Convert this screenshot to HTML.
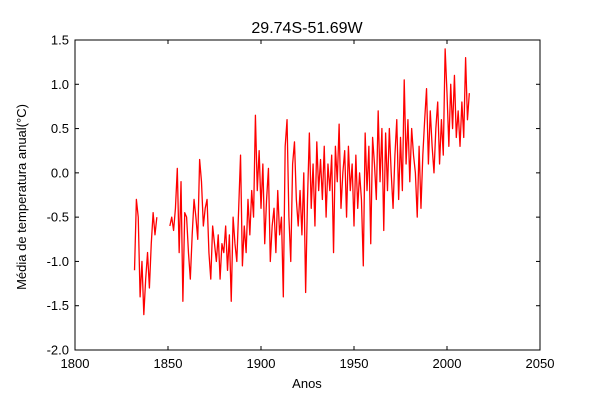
<!DOCTYPE html>
<html><head><meta charset="utf-8"><style>
body{margin:0;background:#fff;}
svg text{font-family:"Liberation Sans",sans-serif;fill:#000;}
</style></head><body>
<svg width="600" height="400" xmlns="http://www.w3.org/2000/svg">
<rect width="600" height="400" fill="#fff"/>
<text x="307" y="33" font-size="16" text-anchor="middle">29.74S-51.69W</text>
<g id="ticks"></g>
<path id="series" fill="none" stroke="#ff0000" stroke-width="1.3" stroke-linejoin="round"/>
<rect x="75" y="40" width="465" height="310" fill="none" stroke="#000" stroke-width="1"/>
<text x="307" y="388" font-size="13" text-anchor="middle">Anos</text>
<text transform="translate(26,197) rotate(-90)" font-size="13" text-anchor="middle">Média de temperatura anual(°C)</text>
</svg>
<script>
const startYear = 1832;
const values = [-1.1,-0.3,-0.5,-1.4,-1.0,-1.6,-1.2,-0.9,-1.3,-0.8,-0.45,-0.7,-0.5,
null,null,null,null,null,null,
-0.6,-0.5,-0.65,-0.4,0.05,-0.9,-0.1,-1.45,-0.45,-0.5,-0.9,-1.2,-0.7,-0.3,-0.5,-0.75,0.15,-0.1,-0.6,-0.4,-0.3,-0.9,-1.2,-0.6,-0.8,-1.0,-0.7,-1.2,-0.8,-0.9,-0.6,-1.1,-0.7,-1.45,-0.5,-0.8,
-1.0,-0.4,0.2,-1.05,-0.6,-0.9,-0.3,-0.7,-0.2,-0.5,0.65,-0.2,0.25,-0.4,0.1,-0.8,-0.3,0.05,-1.0,-0.6,-0.4,-0.9,-0.2,-0.7,-0.5,-1.4,0.3,0.6,-0.5,-1.0,0.1,0.35,-0.3,-0.6,-0.2,-0.7,0.0,-1.35,-0.3,0.45,-0.4,0.1,-0.6,0.35,-0.2,0.15,-0.3,0.3,-0.5,0.1,-0.2,0.2,-0.9,0.3,-0.1,0.55,-0.4,0.0,0.25,-0.5,0.3,-0.2,0.1,-0.6,0.2,-0.4,0.0,-0.3,-1.05,0.45,-0.2,0.3,-0.8,0.4,0.1,-0.3,0.7,-0.1,0.5,-0.65,0.45,-0.2,0.5,0.0,-0.4,0.2,0.6,-0.3,0.4,-0.2,1.05,0.1,0.6,-0.1,0.5,0.2,0.0,-0.5,0.3,-0.4,0.2,0.6,0.95,0.1,0.7,0.3,0.0,0.5,0.8,0.1,0.6,0.2,1.4,0.9,0.3,1.0,0.5,1.1,0.4,0.7,0.3,0.8,0.4,1.3,0.6,0.9];
const xTicks = [1800,1850,1900,1950,2000,2050];
const yTicks = [1.5,1.0,0.5,0.0,-0.5,-1.0,-1.5,-2.0];
const X0=75,X1=540,Y0=40,Y1=350;
const xs = v => X0 + (v-1800)/(2050-1800)*(X1-X0);
const ys = v => Y0 + (1.5-v)/(1.5-(-2.0))*(Y1-Y0);
let d="",pen=false;
values.forEach((v,i)=>{
  if(v===null){pen=false;return;}
  d += (pen?"L":"M")+xs(startYear+i).toFixed(2)+","+ys(v).toFixed(2);
  pen=true;
});
document.getElementById('series').setAttribute('d',d);
const g=document.getElementById('ticks');
const NS="http://www.w3.org/2000/svg";
function mk(tag,attrs,txt){const e=document.createElementNS(NS,tag);for(const k in attrs)e.setAttribute(k,attrs[k]);if(txt!==undefined)e.textContent=txt;g.appendChild(e);return e;}
xTicks.forEach(t=>{
  const x=xs(t);
  const l1=mk('line',{x1:x,x2:x,y1:Y1,y2:Y1-4,stroke:'#000'});
  
  
  const l2=mk('line',{x1:x,x2:x,y1:Y0,y2:Y0+4,stroke:'#000'});
  
  
  const tx=mk('text',{x:x,y:Y1+18,'font-size':13,'text-anchor':'middle'},String(t));
  
  
});
yTicks.forEach(t=>{
  const y=ys(t);
  const l1=mk('line',{x1:X0,x2:X0+4,y1:y,y2:y,stroke:'#000'});
  
  
  const l2=mk('line',{x1:X1,x2:X1-4,y1:y,y2:y,stroke:'#000'});
  
  
  const tx=mk('text',{x:X0-6,y:y+4.5,'font-size':13,'text-anchor':'end'},t.toFixed(1));
  
  
});
</script>
</body></html>
